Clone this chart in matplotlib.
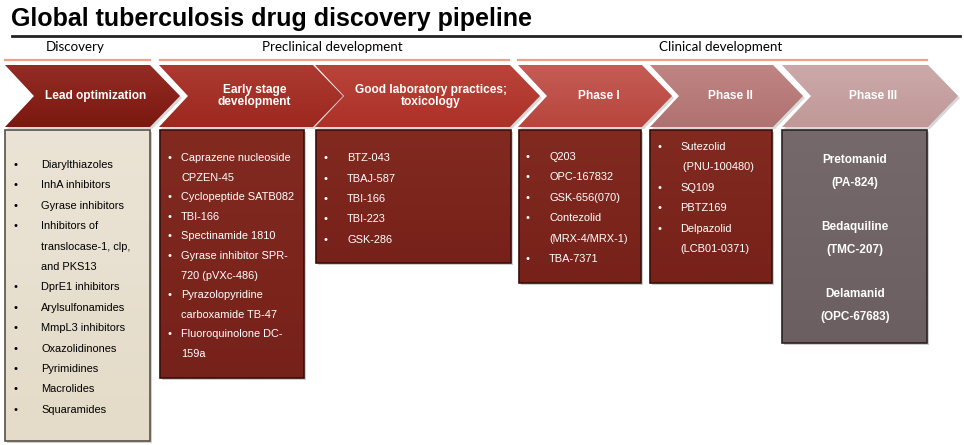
import matplotlib.pyplot as plt
from matplotlib.patches import Polygon, Rectangle
import numpy as np

plt.rcParams["font.family"] = ["Liberation Sans", "DejaVu Sans"]

title = "Global tuberculosis drug discovery pipeline"

stages = ["Discovery", "Preclinical development", "Clinical development"]
stage_spans = [(5, 150), (160, 509), (518, 927)]

steps = ["Lead optimization", "Early stage\ndevelopment", "Good laboratory practices;\ntoxicology",
         "Phase I", "Phase II", "Phase III"]
step_left = [5, 159, 315, 518, 650, 782]
step_right = [180, 343, 540, 672, 803, 958]
step_top = ["#942c24", "#ad3a31", "#b9443a", "#c45d55", "#bf8583", "#cca9a9"]
step_bot = ["#7a1810", "#9c2820", "#ad3128", "#b8453d", "#b07270", "#c09898"]

lead_items = ["Diarylthiazoles", "InhA inhibitors", "Gyrase inhibitors", "Inhibitors of",
              "translocase-1, clp,", "and PKS13", "DprE1 inhibitors", "Arylsulfonamides",
              "MmpL3 inhibitors", "Oxazolidinones", "Pyrimidines", "Macrolides", "Squaramides"]
lead_bullet = [1, 1, 1, 1, 0, 0, 1, 1, 1, 1, 1, 1, 1]

early_items = ["Caprazene nucleoside", "CPZEN-45", "Cyclopeptide SATB082", "TBI-166",
               "Spectinamide 1810", "Gyrase inhibitor SPR-", "720 (pVXc-486)",
               "Pyrazolopyridine", "carboxamide TB-47", "Fluoroquinolone DC-", "159a"]
early_bullet = [1, 0, 1, 1, 1, 1, 0, 1, 0, 1, 0]

glp_items = ["BTZ-043", "TBAJ-587", "TBI-166", "TBI-223", "GSK-286"]
glp_bullet = [1, 1, 1, 1, 1]

ph1_items = ["Q203", "OPC-167832", "GSK-656(070)", "Contezolid", "(MRX-4/MRX-1)", "TBA-7371"]
ph1_bullet = [1, 1, 1, 1, 0, 1]

ph2_items = ["Sutezolid", " (PNU-100480)", "SQ109", "PBTZ169", "Delpazolid", "(LCB01-0371)"]
ph2_bullet = [1, 0, 1, 1, 1, 0]

ph3_items = ["Pretomanid", "(PA-824)", "Bedaquiline", "(TMC-207)", "Delamanid", "(OPC-67683)"]
ph3_y = [160, 183, 227, 250, 294, 317]

fig = plt.figure(figsize=(9.64, 4.45), dpi=100)
ax = fig.add_axes([0, 0, 1, 1])
ax.set_xlim(0, 964)
ax.set_ylim(445, 0)
ax.axis("off")


def gradient_patch(verts, c_top, c_bot, edge=None, z=2):
    poly = Polygon(verts, closed=True, facecolor="none", edgecolor="none", zorder=z)
    ax.add_patch(poly)
    xs = [v[0] for v in verts]
    ys = [v[1] for v in verts]
    c1 = np.array(plt.matplotlib.colors.to_rgb(c_top))
    c2 = np.array(plt.matplotlib.colors.to_rgb(c_bot))
    t = np.linspace(0, 1, 64)[:, None]
    img = (c1 * (1 - t) + c2 * t)[:, None, :]
    im = ax.imshow(img, extent=(min(xs), max(xs), max(ys), min(ys)), aspect="auto",
                   zorder=z, interpolation="bilinear")
    im.set_clip_path(poly)
    if edge is not None:
        ax.add_patch(Polygon(verts, closed=True, facecolor="none", edgecolor=edge,
                             lw=1.2, zorder=z + 0.1))


# title and rules
ax.text(11, 19, title, fontsize=18, fontweight="bold", ha="left", va="center")
ax.plot([12, 960], [36, 36], color="#222222", lw=2)

for name, (x0, x1) in zip(stages, stage_spans):
    ax.text((x0 + x1) / 2 - 2, 47, name, fontsize=9.6, ha="center", va="center",
            family=["Lato", "DejaVu Sans"])
    ax.plot([x0, x1], [59.5, 59.5], color="#f0a088", lw=1.6)

# chevrons
top, mid, bot = 65, 96, 127
for i, label in enumerate(steps):
    l, r = step_left[i], step_right[i]
    verts = [(l, top), (r - 30, top), (r, mid), (r - 30, bot), (l, bot), (l + 29, mid)]
    shadow = [(x + 2, y + 2) for x, y in verts]
    ax.add_patch(Polygon(shadow, closed=True, facecolor="#d8d8d8", edgecolor="none", zorder=1))
    gradient_patch(verts, step_top[i], step_bot[i])
    cx = (l + 29 + r - 30) / 2 + 4
    ax.text(cx, mid, label, color="white", fontsize=8.6, fontweight="bold",
            ha="center", va="center", linespacing=1.05, zorder=5)


def box(x0, x1, y0, y1, c_top, c_bot, edge):
    ax.add_patch(Rectangle((x0 + 2, y0 + 2), x1 - x0, y1 - y0, facecolor="#cfcfcf",
                           edgecolor="none", zorder=1))
    gradient_patch([(x0, y0), (x1, y0), (x1, y1), (x0, y1)], c_top, c_bot, edge=edge)


def bullets(items, flags, bx, tx, y0, dy, color):
    for k, (s, f) in enumerate(zip(items, flags)):
        y = y0 + k * dy
        if f:
            ax.text(bx, y, "\u2022", color=color, fontsize=8, ha="center", va="center", zorder=5)
        ax.text(tx, y, s, color=color, fontsize=7.9, ha="left", va="center", zorder=5)


box(5, 150, 130, 441, "#ebe4d6", "#e4dbc8", "#5a5048")
bullets(lead_items, lead_bullet, 15, 41, 165, 20.4, "black")

box(160, 304, 130, 378, "#822a20", "#76211a", "#3a0e0a")
bullets(early_items, early_bullet, 170, 181, 158, 19.6, "white")

box(316, 511, 130, 263, "#822a20", "#76211a", "#3a0e0a")
bullets(glp_items, glp_bullet, 325, 347, 158, 20.5, "white")

box(519, 641, 130, 283, "#822a20", "#76211a", "#3a0e0a")
bullets(ph1_items, ph1_bullet, 528, 549, 157, 20.4, "white")

box(650, 772, 130, 283, "#822a20", "#76211a", "#3a0e0a")
bullets(ph2_items, ph2_bullet, 659, 680, 147, 20.4, "white")

box(782, 927, 130, 343, "#76696b", "#6c5f61", "#2a2224")
for s, y in zip(ph3_items, ph3_y):
    ax.text(855, y, s, color="white", fontsize=8.5, fontweight="bold",
            ha="center", va="center", zorder=5)

fig.savefig("out.png", dpi=100)
